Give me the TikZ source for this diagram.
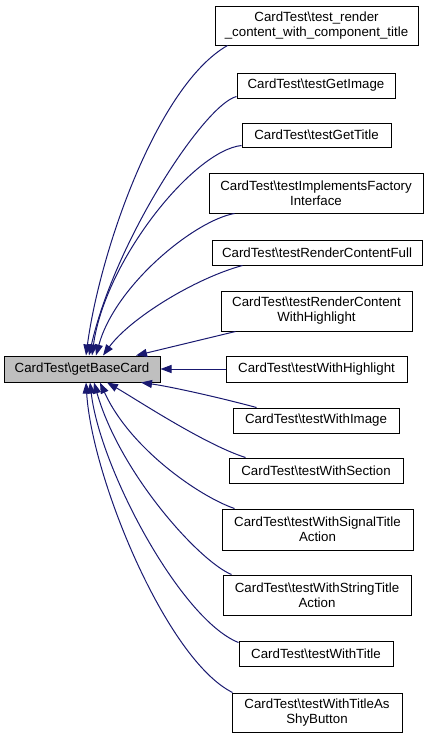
\documentclass[tikz,border=0pt]{standalone}
\usepackage{fontspec}
\setmainfont{Liberation Sans}
\usepackage{xcolor}
\usetikzlibrary{arrows.meta}
\definecolor{edgeblue}{RGB}{25,25,112}
\definecolor{basegray}{RGB}{191,191,191}

\begin{document}
\begin{tikzpicture}[x=1pt,y=1pt,
  fn/.style={draw=black, line width=1pt, fill=white, align=center, inner sep=0pt,
    font=\fontsize{13.3}{15}\selectfont},
  caller/.style={draw=edgeblue, line width=1pt, -{Triangle[length=11pt,width=8pt,fill=edgeblue]}}]
\useasboundingbox (0,0) rectangle (429,-739);
% the function that is called
\node[fn, fill=basegray, minimum width=156, minimum height=26] (base) at (82,-369) {CardTest\textbackslash getBaseCard};
% its callers
\node[fn, minimum width=203, minimum height=39] (render) at (316.5,-25.5) {CardTest\textbackslash test\_render\\\_content\_with\_component\_title};
\node[fn, minimum width=158, minimum height=25] (getimage) at (316,-85.5) {CardTest\textbackslash testGetImage};
\node[fn, minimum width=149, minimum height=24] (gettitle) at (316.5,-135) {CardTest\textbackslash testGetTitle};
\node[fn, minimum width=214, minimum height=40] (factory) at (316,-193) {CardTest\textbackslash testImplementsFactory\\Interface};
\node[fn, minimum width=210, minimum height=25] (full) at (317,-252.5) {CardTest\textbackslash testRenderContentFull};
\node[fn, minimum width=191, minimum height=40] (contenthl) at (316.5,-311) {CardTest\textbackslash testRenderContent\\WithHighlight};
\node[fn, minimum width=181, minimum height=26] (withhl) at (316.5,-369) {CardTest\textbackslash testWithHighlight};
\node[fn, minimum width=166, minimum height=25] (withimage) at (316,-420.5) {CardTest\textbackslash testWithImage};
\node[fn, minimum width=174, minimum height=25] (section) at (316,-470.5) {CardTest\textbackslash testWithSection};
\node[fn, minimum width=191, minimum height=41] (signal) at (317.5,-529.5) {CardTest\textbackslash testWithSignalTitle\\Action};
\node[fn, minimum width=188, minimum height=40] (string) at (317,-595) {CardTest\textbackslash testWithStringTitle\\Action};
\node[fn, minimum width=154, minimum height=25] (withtitle) at (316,-653.5) {CardTest\textbackslash testWithTitle};
\node[fn, minimum width=170, minimum height=39] (shy) at (317,-712.5) {CardTest\textbackslash testWithTitleAs\\ShyButton};
% calls into the top of the box
\draw[caller] ([xshift=13]render.south west) .. controls +(-70,-40) and +(14,105) .. ([xshift=4]base.north);
\draw[caller] ([yshift=2]getimage.south west) .. controls +(-32,-8) and +(26,115) .. ([xshift=7]base.north);
\draw[caller] ([yshift=2]gettitle.south west) .. controls +(-48,-5) and +(13,95) .. ([xshift=10]base.north);
\draw[caller] ([xshift=26]factory.south west) .. controls +(-40,-7) and +(19,70) .. ([xshift=14]base.north);
\draw[caller] ([xshift=31]full.south west) .. controls +(-48,-13) and +(27,37) .. ([xshift=21]base.north);
\draw[caller] ([xshift=15]contenthl.south west) -- ([xshift=54]base.north);
\draw[caller] (withhl.west) -- (base.east);
% calls into the bottom of the box
\draw[caller] ([xshift=24]withimage.north west) .. controls +(-37,10) and +(29,-4) .. ([xshift=59]base.south);
\draw[caller] ([xshift=17]section.north west) .. controls +(-41,13) and +(28,-16) .. ([xshift=25]base.south);
\draw[caller] ([xshift=13]signal.north west) .. controls +(-35,12) and +(30,-66) .. ([xshift=18]base.south);
\draw[caller] ([xshift=9]string.north west) .. controls +(-32,13) and +(26,-91) .. ([xshift=12]base.south);
\draw[caller] ([yshift=-2]withtitle.north west) .. controls +(-58,23) and +(10,-86) .. ([xshift=8]base.south);
\draw[caller] ([xshift=1]shy.north west) .. controls +(-66,33) and +(6,-96) .. ([xshift=4]base.south);
\end{tikzpicture}
\end{document}
